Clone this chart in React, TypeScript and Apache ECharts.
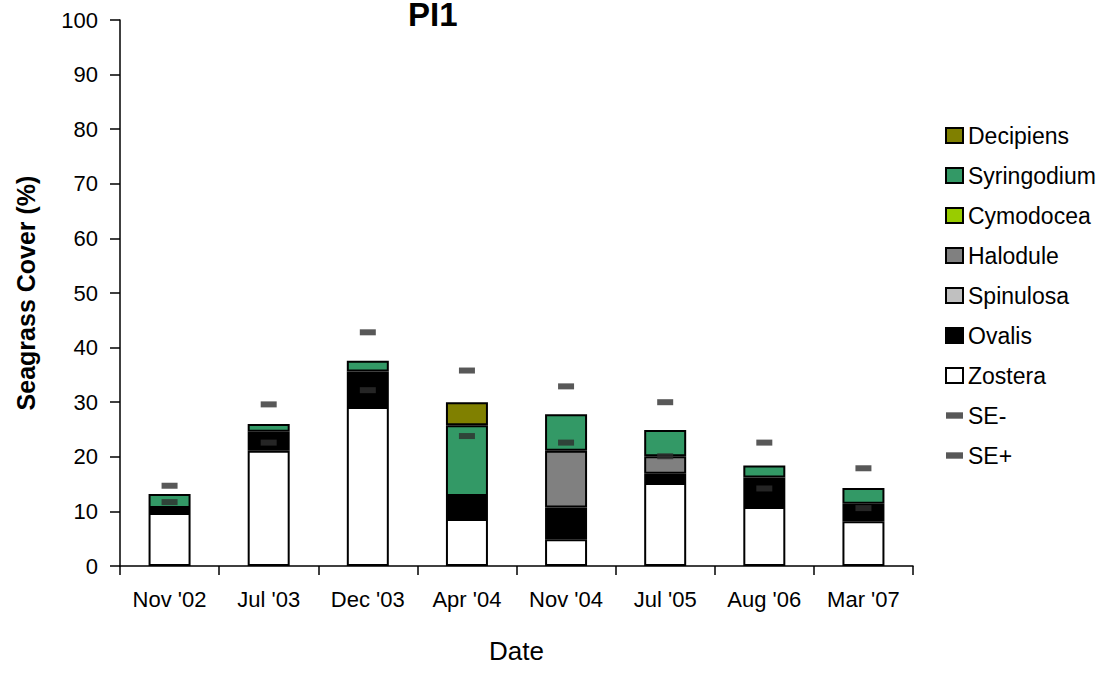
import React, { useEffect, useRef } from "react";
import * as echarts from "echarts";

const categories = ["Nov '02", "Jul '03", "Dec '03", "Apr '04", "Nov '04", "Jul '05", "Aug '06", "Mar '07"];
const zostera = [9.7, 21.1, 29.1, 8.6, 4.9, 15.2, 10.8, 8.2];
const ovalis = [0.9, 3.5, 6.5, 4.2, 5.8, 1.7, 5.4, 3.2];
const spinulosa = [0, 0, 0, 0, 0, 0, 0, 0];
const halodule = [0, 0, 0, 0, 10.4, 3.2, 0, 0];
const cymodocea = [0, 0, 0, 0, 0, 0, 0, 0];
const syringodium = [2.6, 1.4, 2.0, 13.0, 6.7, 4.8, 2.2, 2.9];
const decipiens = [0, 0, 0, 4.2, 0, 0, 0, 0];
const seMinus = [11.7, 22.6, 32.2, 23.8, 22.6, 20.1, 14.2, 10.6];
const sePlus = [14.7, 29.6, 42.8, 35.8, 32.9, 30.0, 22.6, 17.9];
const yTicks = { min: 0, max: 100, interval: 10 };

const FONT = "'Liberation Sans', Arial, Helvetica, sans-serif";

const stackSeries = [
  { name: "Zostera", data: zostera, color: "#ffffff" },
  { name: "Ovalis", data: ovalis, color: "#000000" },
  { name: "Spinulosa", data: spinulosa, color: "#c0c0c0" },
  { name: "Halodule", data: halodule, color: "#808080" },
  { name: "Cymodocea", data: cymodocea, color: "#99cc00" },
  { name: "Syringodium", data: syringodium, color: "#339966" },
  { name: "Decipiens", data: decipiens, color: "#808000" },
];

export default function App() {
  const ref = useRef<HTMLDivElement>(null);
  useEffect(() => {
    if (!ref.current) return;
    const chart = echarts.init(ref.current, undefined, { renderer: "svg" });
    const dashIcon = "path://M0,0 H16 V6 H0 Z";
    const seStyle = { color: "#2e2e2e" };
    const option: any = {
      animation: false,
      backgroundColor: "#ffffff",
      title: {
        text: "PI1",
        left: 403,
        top: -7,
        textStyle: { fontFamily: FONT, fontSize: 33, fontWeight: "bold", color: "#000" },
      },
      grid: { left: 120, right: 196, top: 20, bottom: 107, containLabel: false },
      legend: {
        orient: "vertical",
        left: 940,
        top: 119,
        itemWidth: 17,
        itemHeight: 15,
        itemGap: 17,
        textStyle: { fontFamily: FONT, fontSize: 23, color: "#000", lineHeight: 22 },
        data: [
          { name: "Decipiens", icon: "rect" },
          { name: "Syringodium", icon: "rect" },
          { name: "Cymodocea", icon: "rect" },
          { name: "Halodule", icon: "rect" },
          { name: "Spinulosa", icon: "rect" },
          { name: "Ovalis", icon: "rect" },
          { name: "Zostera", icon: "rect" },
          { name: "SE-", icon: dashIcon },
          { name: "SE+", icon: dashIcon },
        ],
      },
      xAxis: {
        type: "category",
        data: categories,
        name: "Date",
        nameLocation: "middle",
        nameGap: 72,
        nameTextStyle: { fontFamily: FONT, fontSize: 26, color: "#000" },
        axisLine: { lineStyle: { color: "#000", width: 1.5 } },
        axisTick: { show: true, length: 9, lineStyle: { color: "#000", width: 1.5 } },
        axisLabel: { fontFamily: FONT, fontSize: 22, color: "#000", margin: 22 },
        splitLine: { show: false },
      },
      yAxis: {
        type: "value",
        min: yTicks.min,
        max: yTicks.max,
        interval: yTicks.interval,
        name: "Seagrass Cover (%)",
        nameLocation: "middle",
        nameGap: 82,
        nameTextStyle: { fontFamily: FONT, fontSize: 25, fontWeight: "bold", color: "#000" },
        axisLine: { show: true, lineStyle: { color: "#000", width: 1.5 } },
        axisTick: { show: true, length: 10, lineStyle: { color: "#000", width: 1.5 } },
        axisLabel: { fontFamily: FONT, fontSize: 22, color: "#000", margin: 22 },
        splitLine: { show: false },
      },
      series: [
        ...stackSeries.map((s) => ({
          name: s.name,
          type: "bar",
          stack: "cover",
          barWidth: 42,
          data: s.data.map((v) => (v === 0 ? "-" : v)),
          itemStyle: { color: s.color, borderColor: "#000", borderWidth: 2 },
        })),
        {
          name: "SE-",
          type: "scatter",
          data: seMinus,
          symbol: "rect",
          symbolSize: [16, 6],
          itemStyle: seStyle,
          z: 5,
        },
        {
          name: "SE+",
          type: "scatter",
          data: sePlus,
          symbol: "rect",
          symbolSize: [16, 6],
          itemStyle: seStyle,
          z: 5,
        },
      ],
    };
    chart.setOption(option);
    return () => chart.dispose();
  }, []);
  return (
    <div
      ref={ref}
      style={{ position: "absolute", left: 0, top: 0, width: 1109, height: 673, background: "#fff" }}
    />
  );
}
